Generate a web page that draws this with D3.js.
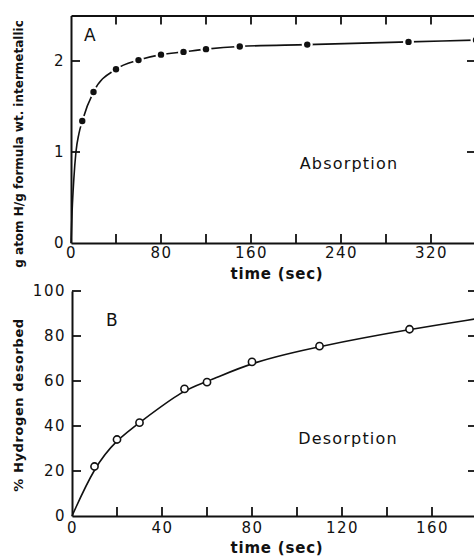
<!DOCTYPE html>
<html>
<head>
<meta charset="utf-8">
<script src="https://cdn.jsdelivr.net/npm/d3@7"></script>
<style>
  body { margin: 0; background: #fff; }
  svg text { font-family: "DejaVu Sans", sans-serif; fill: #111; }
</style>
</head>
<body>
<div id="chart"></div>
<script>
// Panel A: absorption, filled dots
const absTime = [10, 20, 40, 60, 80, 100, 120, 150, 210, 300, 360];
const absValue = [1.34, 1.66, 1.91, 2.01, 2.07, 2.10, 2.13, 2.16, 2.18, 2.21, 2.23];
// steep start of the drawn curve, before the first dot
const absFitTime = [0, 1, 2.5, 4.4, 7];
const absFitValue = [0, 0.35, 0.7, 1.0, 1.2];
const absXTicks = [0, 40, 80, 120, 160, 200, 240, 280, 320, 360];
const absXLabels = [0, 80, 160, 240, 320];
const absYTicks = [0, 1, 2];

// Panel B: desorption, open circles
const desTime = [10, 20, 30, 50, 60, 80, 110, 150];
const desValue = [22, 34, 41.5, 56.5, 59.5, 68.5, 75.5, 83];
const desFitTime = [0, 180];
const desFitValue = [0, 87.7];
const desXTicks = [0, 20, 40, 60, 80, 100, 120, 140, 160, 180];
const desXLabels = [0, 40, 80, 120, 160];
const desYTicks = [0, 20, 40, 60, 80, 100];

const width = 474, height = 557;
const tickLen = 9;

const svg = d3.select('#chart')
  .append('svg')
    .attr('width', width)
    .attr('height', height);

function styleAxis(g) {
  g.select('.domain').attr('stroke', '#111').attr('stroke-width', 2);
  g.selectAll('.tick line').remove();
  g.selectAll('.tick text')
    .style('font-size', '15px')
    .style('letter-spacing', '1.5px')
    .attr('fill', '#111');
}

// inward tick marks drawn from the scales
function tickMarks(vals, pos, fixed, dir, vertical) {
  svg.append('g')
    .selectAll('line')
    .data(vals)
    .enter()
    .append('line')
      .attr('x1', d => vertical ? pos(d) : fixed)
      .attr('x2', d => vertical ? pos(d) : fixed + dir * tickLen)
      .attr('y1', d => vertical ? fixed : pos(d))
      .attr('y2', d => vertical ? fixed + dir * tickLen : pos(d))
      .attr('stroke', '#111')
      .attr('stroke-width', 1.8);
}

function drawPanel(opts) {
  const x = d3.scaleLinear().domain(opts.xDomain).range(opts.xRange);
  const y = d3.scaleLinear().domain(opts.yDomain).range(opts.yRange);
  const fmtX = d => opts.xLabels.includes(d) ? d : '';
  const [x0, x1] = opts.xRange;
  const [y0, y1] = opts.yRange;

  // bottom axis
  svg.append('g')
    .attr('transform', `translate(0,${y0})`)
    .call(d3.axisBottom(x).tickValues(opts.xTicks).tickFormat(fmtX)
      .tickSize(0).tickPadding(opts.xPad))
    .call(styleAxis);
  tickMarks(opts.xTicks.filter(d => d > 0), x, y0, -1, true);

  // left axis
  svg.append('g')
    .attr('transform', `translate(${x0},0)`)
    .call(d3.axisLeft(y).tickValues(opts.yTicks).tickFormat(d => d)
      .tickSize(0).tickPadding(6))
    .call(styleAxis);
  tickMarks(opts.yTicks.filter(d => d > 0), y, x0, 1, false);

  // right axis (mostly outside the crop)
  svg.append('g')
    .attr('transform', `translate(${x1},0)`)
    .call(d3.axisRight(y).tickValues([]).tickSize(0))
    .call(styleAxis);
  tickMarks(opts.yTicks.filter(d => d > 0), y, x1, -1, false);

  if (opts.top) {
    svg.append('g')
      .attr('transform', `translate(0,${y1})`)
      .call(d3.axisTop(x).tickValues([]).tickSize(0))
      .call(styleAxis);
    tickMarks(opts.xTicks.filter(d => d > 0), x, y1, 1, true);
  }

  // curve through the fit points and the measured points
  const pts = opts.fitT.map((t, i) => [t, opts.fitV[i]])
    .concat(opts.t.map((t, i) => [t, opts.v[i]]))
    .sort((a, b) => a[0] - b[0]);

  const line = d3.line()
    .x(d => x(d[0]))
    .y(d => y(d[1]))
    .curve(opts.curve);

  svg.append('path')
    .datum(pts)
    .attr('fill', 'none')
    .attr('stroke', '#111')
    .attr('stroke-width', 1.6)
    .attr('d', line);

  const marks = opts.t.map((t, i) => [t, opts.v[i]]);
  if (opts.filled) {
    svg.selectAll(null)
      .data(marks)
      .enter()
      .append('circle')
        .attr('cx', d => x(d[0]))
        .attr('cy', d => y(d[1]))
        .attr('r', 5.5)
        .attr('fill', '#fff');
    svg.selectAll(null)
      .data(marks)
      .enter()
      .append('circle')
        .attr('cx', d => x(d[0]))
        .attr('cy', d => y(d[1]))
        .attr('r', 3.2)
        .attr('fill', '#111');
  } else {
    svg.selectAll(null)
      .data(marks)
      .enter()
      .append('circle')
        .attr('cx', d => x(d[0]))
        .attr('cy', d => y(d[1]))
        .attr('r', 3.6)
        .attr('fill', '#fff')
        .attr('stroke', '#111')
        .attr('stroke-width', 1.6);
  }

  // panel letter and caption
  svg.append('text')
    .attr('x', opts.letterPos[0])
    .attr('y', opts.letterPos[1])
    .style('font-size', '17px')
    .text(opts.letter);

  svg.append('text')
    .attr('x', opts.captionPos[0])
    .attr('y', opts.captionPos[1])
    .attr('text-anchor', 'middle')
    .style('font-size', '16px')
    .style('letter-spacing', '1.2px')
    .text(opts.caption);

  // x title
  svg.append('text')
    .attr('x', 277)
    .attr('y', opts.xTitleY)
    .attr('text-anchor', 'middle')
    .style('font-size', '15px')
    .style('font-weight', 'bold')
    .style('letter-spacing', '0.8px')
    .text('time (sec)');

  // y title
  svg.append('text')
    .attr('transform', `translate(${opts.yTitlePos[0]},${opts.yTitlePos[1]}) rotate(-90)`)
    .attr('text-anchor', 'middle')
    .style('font-size', opts.yTitleSize)
    .style('font-weight', 'bold')
    .style('letter-spacing', opts.yTitleSpacing)
    .text(opts.yTitle);
}

drawPanel({
  xDomain: [0, 360], xRange: [71, 476],
  yDomain: [0, 2.5], yRange: [243, 15.5],
  xTicks: absXTicks, xLabels: absXLabels, yTicks: absYTicks, xPad: 4,
  top: true, filled: true, curve: d3.curveMonotoneX,
  t: absTime, v: absValue, fitT: absFitTime, fitV: absFitValue,
  letter: 'A', letterPos: [84, 41],
  caption: 'Absorption', captionPos: [349, 169],
  xTitleY: 279,
  yTitle: 'g atom H/g formula wt. intermetallic', yTitlePos: [23, 144],
  yTitleSize: '12px', yTitleSpacing: '0px'
});

drawPanel({
  xDomain: [0, 180], xRange: [72, 477],
  yDomain: [0, 100], yRange: [516, 291],
  xTicks: desXTicks, xLabels: desXLabels, yTicks: desYTicks, xPad: 6,
  top: false, filled: false, curve: d3.curveBasis,
  t: desTime, v: desValue, fitT: desFitTime, fitV: desFitValue,
  letter: 'B', letterPos: [106, 326],
  caption: 'Desorption', captionPos: [348, 444],
  xTitleY: 553,
  yTitle: '% Hydrogen desorbed', yTitlePos: [23, 405],
  yTitleSize: '13px', yTitleSpacing: '0.6px'
});
</script>
</body>
</html>
